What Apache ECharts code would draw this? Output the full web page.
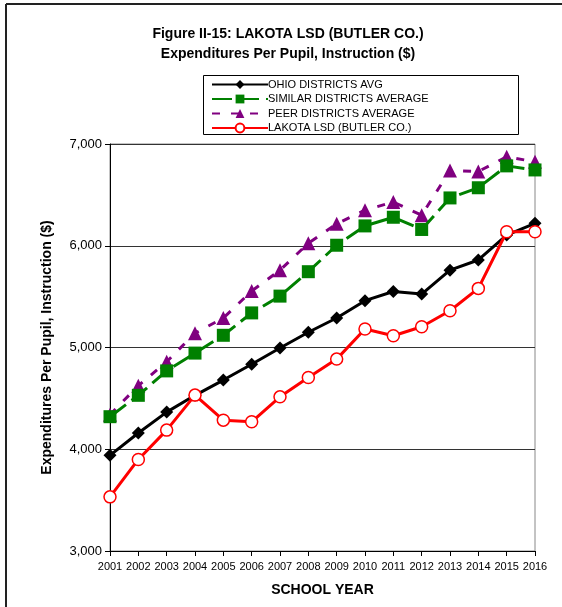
<!DOCTYPE html>
<html>
<head>
<meta charset="utf-8">
<style>
  html, body { margin: 0; padding: 0; background: #fff; }
  #main { width: 562px; height: 607px; }
</style>
<script src="https://cdn.jsdelivr.net/npm/echarts@6/dist/echarts.min.js"></script>
</head>
<body>
<div id="main"></div>
<script>
// school years
var years = ['2001', '2002', '2003', '2004', '2005', '2006', '2007', '2008',
  '2009', '2010', '2011', '2012', '2013', '2014', '2015', '2016'];

// values ($ per pupil)
var ohioAvg = [3940, 4160, 4365, 4530, 4680, 4835, 4995, 5150, 5290, 5460, 5550, 5525, 5760, 5860, 6105, 6220];
var similarAvg = [4320, 4530, 4770, 4945, 5120, 5340, 5505, 5745, 6005, 6195, 6280, 6160, 6470, 6570, 6785, 6745];
var peerAvg = [4340, 4625, 4860, 5140, 5290, 5555, 5760, 6025, 6215, 6350, 6430, 6300, 6740, 6730, 6875, 6825];
var lakota = [3532, 3900, 4188, 4532, 4286, 4270, 4515, 4706, 4886, 5181, 5115, 5204, 5361, 5581, 6138, 6138];

var font = 'Liberation Sans, Arial, sans-serif';

var myChart = echarts.init(document.getElementById('main'));

var option = {
  animation: false,
  backgroundColor: '#fff',
  title: {
    text: 'Figure II-15: LAKOTA LSD (BUTLER CO.)\nExpenditures Per Pupil, Instruction ($)',
    left: 283,
    textAlign: 'center',
    top: 19,
    textStyle: { fontFamily: font, fontSize: 14, fontWeight: 'bold', color: '#000', lineHeight: 20 }
  },
  legend: {
    orient: 'vertical',
    left: 211,
    top: 79,
    itemWidth: 56,
    itemHeight: 11,
    itemGap: 3.5,
    padding: 0,
    textStyle: { fontFamily: font, fontSize: 11, color: '#000', padding: [0, 0, 0, -5] },
    data: ['OHIO DISTRICTS AVG', 'SIMILAR DISTRICTS AVERAGE', 'PEER DISTRICTS AVERAGE', 'LAKOTA LSD (BUTLER CO.)']
  },
  graphic: [
    { type: 'rect', shape: { x: 203.5, y: 75.5, width: 315, height: 59 },
      style: { fill: null, stroke: '#000', lineWidth: 1 }, z: 10 },
    { type: 'line', shape: { x1: 6, y1: 4, x2: 562, y2: 4 },
      style: { stroke: '#222', lineWidth: 2 } },
    { type: 'line', shape: { x1: 6, y1: 4, x2: 6, y2: 607 },
      style: { stroke: '#222', lineWidth: 2 } }
  ],
  grid: {
    left: 110,
    right: 27,
    top: 144,
    bottom: 56,
    show: true,
    borderColor: '#888',
    borderWidth: 1
  },
  xAxis: {
    type: 'category',
    data: years,
    boundaryGap: false,
    name: 'SCHOOL YEAR',
    nameLocation: 'middle',
    nameGap: 32,
    nameTextStyle: { fontFamily: font, fontSize: 14, fontWeight: 'bold', color: '#000' },
    axisLine: { lineStyle: { color: '#000', width: 1 } },
    axisTick: { show: true, alignWithLabel: true, length: 5, lineStyle: { color: '#000' } },
    axisLabel: { fontFamily: font, fontSize: 11, color: '#000', margin: 10, interval: 0 },
    splitLine: { show: false }
  },
  yAxis: {
    type: 'value',
    min: 3000,
    max: 7000,
    interval: 1000,
    name: 'Expenditures Per Pupil, Instruction ($)',
    nameLocation: 'middle',
    nameGap: 56,
    nameTextStyle: { fontFamily: font, fontSize: 14, fontWeight: 'bold', color: '#000' },
    axisLine: { show: true, lineStyle: { color: '#000', width: 1 } },
    axisTick: { show: true, length: 5, lineStyle: { color: '#000' } },
    axisLabel: {
      fontFamily: font, fontSize: 13, color: '#000', margin: 8,
      formatter: function (v) { return v.toLocaleString('en-US'); }
    },
    splitLine: { show: true, lineStyle: { color: '#333', width: 1 } }
  },
  series: [
    {
      name: 'OHIO DISTRICTS AVG',
      type: 'line',
      data: ohioAvg,
      symbol: 'diamond',
      symbolSize: 13,
      itemStyle: { color: '#000' },
      lineStyle: { color: '#000', width: 3 },
      z: 4
    },
    {
      name: 'SIMILAR DISTRICTS AVERAGE',
      type: 'line',
      data: similarAvg,
      symbol: 'rect',
      symbolSize: 13,
      itemStyle: { color: '#008000' },
      lineStyle: { color: '#008000', width: 3, type: [20, 7] },
      z: 3
    },
    {
      name: 'PEER DISTRICTS AVERAGE',
      type: 'line',
      data: peerAvg,
      symbol: 'triangle',
      symbolSize: 14,
      itemStyle: { color: '#800080' },
      lineStyle: { color: '#800080', width: 3, type: [8, 11] },
      z: 2
    },
    {
      name: 'LAKOTA LSD (BUTLER CO.)',
      type: 'line',
      data: lakota,
      symbol: 'circle',
      symbolSize: 12,
      itemStyle: { color: '#fff', borderColor: '#ff0000', borderWidth: 1.5 },
      lineStyle: { color: '#ff0000', width: 3 },
      z: 5
    }
  ]
};

myChart.setOption(option);
</script>
</body>
</html>
